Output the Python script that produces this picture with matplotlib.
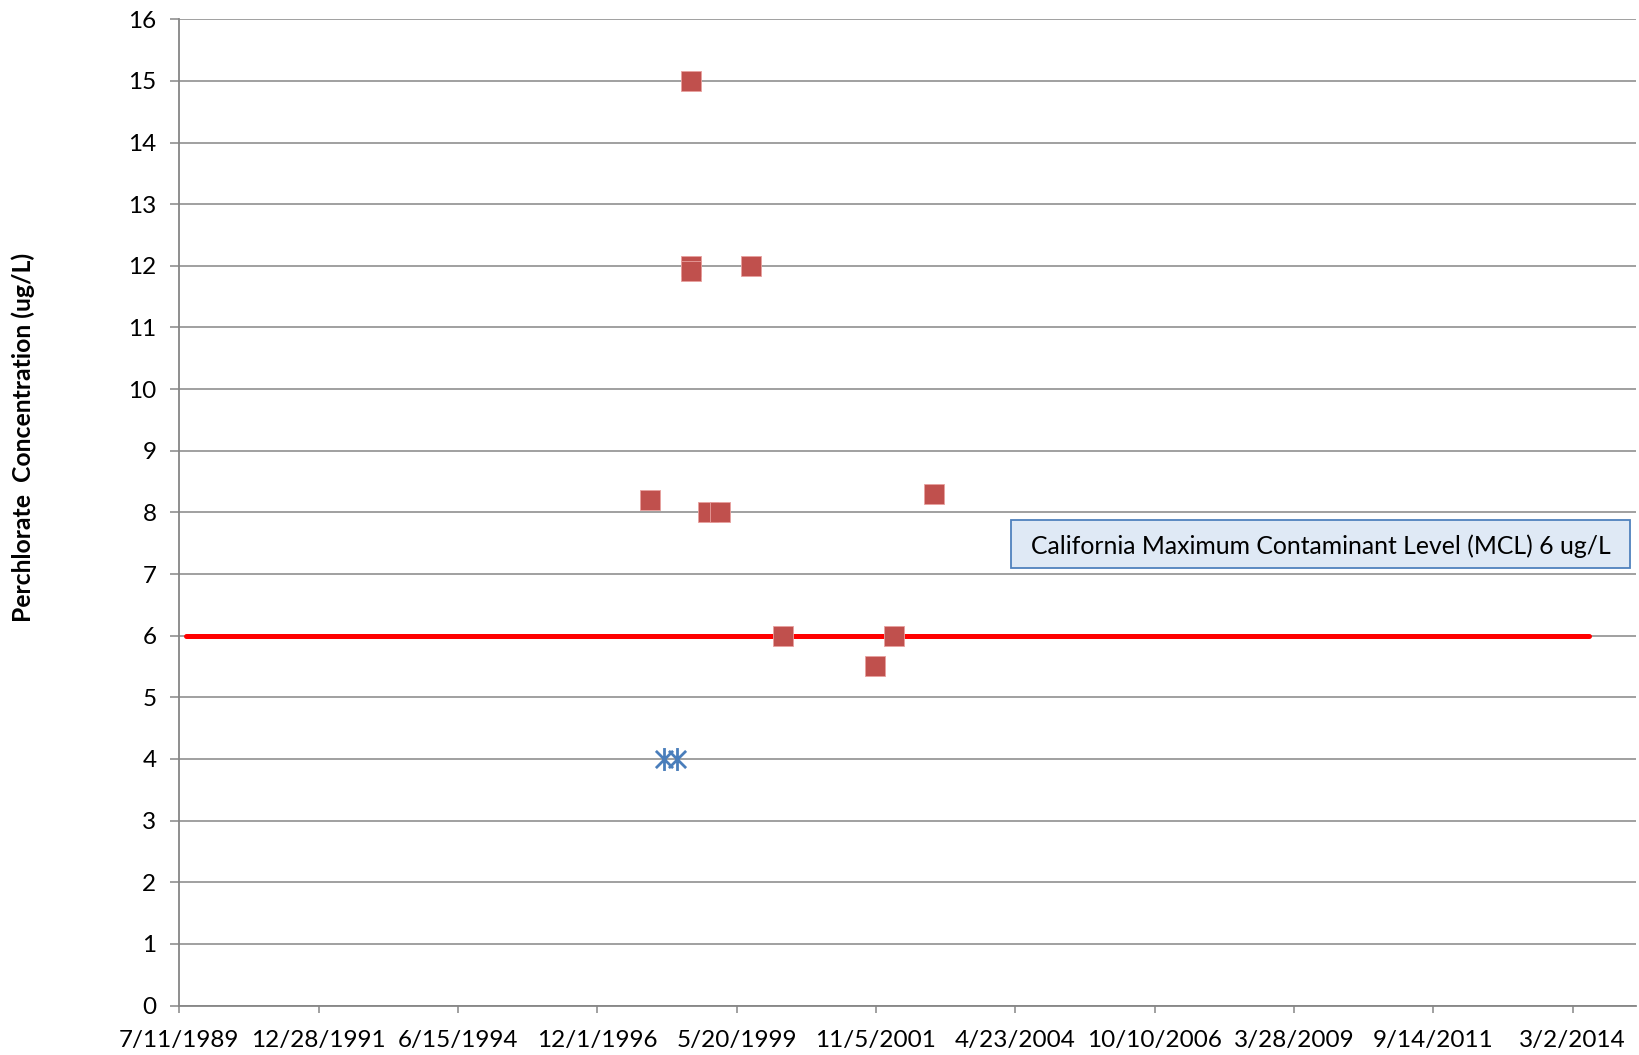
import numpy as np
import pandas as pd
import matplotlib
matplotlib.use("Agg")
import matplotlib.pyplot as plt
import matplotlib.dates as mdates
from matplotlib.path import Path
from matplotlib.patches import Rectangle

plt.rcParams['font.family'] = ['Lato', 'DejaVu Sans']

# ---- data ----
detect_dates = ["1997-11-05", "1998-07-30", "1998-07-30", "1998-07-30", "1998-11-18",
                "1999-02-05", "1999-08-20", "2000-03-16", "2001-10-29", "2002-03-05",
                "2002-11-12"]
detect_vals = [8.2, 15, 12, 11.92, 8, 8, 12, 6, 5.5, 6, 8.3]

nd_dates = ["1998-02-07", "1998-05-02"]
nd_vals = [4, 4]

mcl_dates = ["1989-08-23", "2014-06-15"]
mcl_vals = [6, 6]

x_tick_labels = ["7/11/1989", "12/28/1991", "6/15/1994", "12/1/1996", "5/20/1999",
                 "11/5/2001", "4/23/2004", "10/10/2006", "3/28/2009", "9/14/2011",
                 "3/2/2014"]
y_ticks = list(range(0, 17))
ylabel = "Perchlorate  Concentration (ug/L)"
mcl_label = "California Maximum Contaminant Level (MCL) 6 ug/L"

# ---- figure ----
W, H = 1639, 1055
fig = plt.figure(figsize=(W / 100, H / 100), dpi=100)
ax = fig.add_axes([179.3 / W, 1 - 1005.5 / H, (1636 - 179.3) / W, (1005.5 - 19.3) / H])

grid_c = "#868686"
for y in y_ticks:
    ax.axhline(y, color=grid_c, lw=1.1, zorder=1)

xd = pd.to_datetime(detect_dates)
xn = pd.to_datetime(nd_dates)
xm = pd.to_datetime(mcl_dates)

ax.plot(xm, mcl_vals, color="#ff0000", lw=3.6, solid_capstyle="round", zorder=2)

ax.plot(xd, detect_vals, linestyle="none", marker="s", markersize=14.8,
        markerfacecolor="#c0504d", markeredgecolor="#e8a09e", markeredgewidth=0.6, zorder=3)

star = Path([(0, -1), (0, 1), (-0.75, -0.75), (0.75, 0.75), (-0.75, 0.75), (0.75, -0.75)],
            [Path.MOVETO, Path.LINETO, Path.MOVETO, Path.LINETO, Path.MOVETO, Path.LINETO])
ax.plot(xn, nd_vals, linestyle="none", marker=star, markersize=16.5,
        markeredgecolor="#4a7ebb", markerfacecolor="none", markeredgewidth=2.0, zorder=3)

xt = pd.to_datetime(x_tick_labels, format="%m/%d/%Y")
x0 = mdates.date2num(xt[0])
ax.set_xlim(x0, x0 + 9410)
ax.set_ylim(0, 16)
ax.set_xticks(mdates.date2num(xt))
ax.set_xticklabels(x_tick_labels)
ax.set_yticks(y_ticks)
ax.set_yticklabels([str(v) for v in y_ticks])

for s in ["top", "right"]:
    ax.spines[s].set_visible(False)
for s in ["left", "bottom"]:
    ax.spines[s].set_color(grid_c)
    ax.spines[s].set_linewidth(1.3)
ax.tick_params(axis="y", length=6.5, width=1.1, color=grid_c, labelsize=17.5, pad=10)
ax.tick_params(axis="x", length=5, width=1.1, color=grid_c, labelsize=17.5, pad=12.5)

fig.text(23 / W, 1 - 437 / H, ylabel, rotation=90, ha="center", va="center",
         fontsize=17.8, fontweight="bold")

# MCL annotation box
bx0 = (1011 - 179.3) / 1456.7
by0 = (1005.5 - 567.6) / 986.2
bw = 619 / 1456.7
bh = 48.1 / 986.2
ax.add_patch(Rectangle((bx0, by0), bw, bh, transform=ax.transAxes,
                       facecolor="#dfe9f5", edgecolor="#4f81bd", lw=1.3, zorder=4))
ax.text(bx0 + bw / 2, by0 + bh / 2 - 0.003, mcl_label, transform=ax.transAxes,
        ha="center", va="center", fontsize=17.8, zorder=5)

fig.savefig("out.png", dpi=100)
